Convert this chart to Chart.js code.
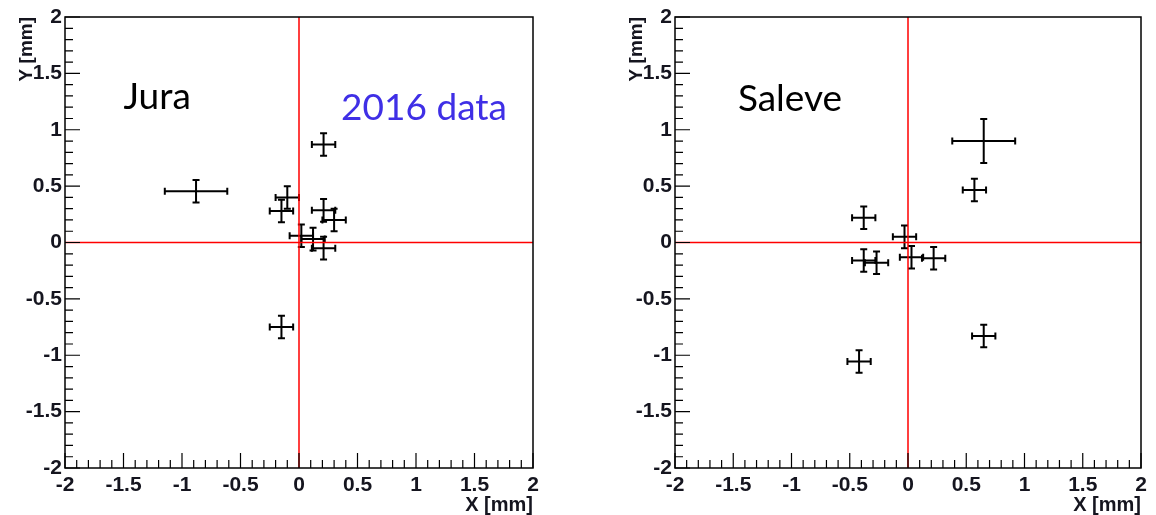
<!DOCTYPE html>
<html>
<head>
<meta charset="utf-8">
<script src="https://cdn.jsdelivr.net/npm/chart.js@4"></script>
<style>
  body { margin: 0; background: #fff; width: 1156px; height: 515px; overflow: hidden; position: relative; }
  .panel { position: absolute; top: 0; }
</style>
</head>
<body>
<div class="panel" style="left:0px"><canvas id="jura" width="560" height="515"></canvas></div>
<div class="panel" style="left:610px"><canvas id="saleve" width="546" height="515"></canvas></div>
<script>
// Jura points (mm)
var juraX    = [-0.88, 0.21, -0.10, -0.15, 0.21, 0.30, 0.02, 0.12, 0.21, -0.15];
var juraY    = [0.455, 0.87, 0.40, 0.28, 0.285, 0.20, 0.06, 0.03, -0.05, -0.75];
var juraXErr = [0.267, 0.10, 0.10, 0.10, 0.10, 0.10, 0.10, 0.10, 0.10, 0.10];
var juraYErr = [0.10, 0.10, 0.10, 0.10, 0.10, 0.10, 0.10, 0.10, 0.10, 0.10];

// Saleve points (mm)
var saleveX    = [0.65, 0.57, -0.38, -0.03, 0.03, 0.22, -0.38, -0.27, -0.42, 0.65];
var saleveY    = [0.90, 0.465, 0.22, 0.05, -0.13, -0.14, -0.16, -0.18, -1.055, -0.83];
var saleveXErr = [0.27, 0.10, 0.10, 0.10, 0.10, 0.10, 0.10, 0.10, 0.10, 0.10];
var saleveYErr = [0.195, 0.10, 0.10, 0.10, 0.10, 0.10, 0.10, 0.10, 0.10, 0.10];

// axis ticks
var axisMin = -2, axisMax = 2, majorStep = 0.5, minorStep = 0.1;

// text labels
var juraLabels = [
  { text: 'Jura', x: -1.50, y: 1.18, color: '#000' },
  { text: '2016 data', x: 0.36, y: 1.09, color: '#3f2fe6' }
];
var saleveLabels = [
  { text: 'Saleve', x: -1.46, y: 1.17, color: '#000' }
];

var tickFont = { family: 'Liberation Sans', size: 21, weight: 'bold' };
var textCol = '#15151f';

// error bars, red zero lines, inside ticks, frame, labels
var rootPlugin = {
  id: 'rootStyle',
  afterDatasetsDraw: function(chart) {
    var ctx = chart.ctx;
    var xs = chart.scales.x, ys = chart.scales.y;
    var a = chart.chartArea;
    var ds = chart.data.datasets[0];
    ctx.save();

    // error bars
    ctx.strokeStyle = '#000';
    ctx.lineWidth = 2;
    var cap = 3.5;
    ds.data.forEach(function(p, i) {
      var px = xs.getPixelForValue(p.x), py = ys.getPixelForValue(p.y);
      var x1 = xs.getPixelForValue(p.x - ds.xErr[i]), x2 = xs.getPixelForValue(p.x + ds.xErr[i]);
      var y1 = ys.getPixelForValue(p.y - ds.yErr[i]), y2 = ys.getPixelForValue(p.y + ds.yErr[i]);
      ctx.beginPath();
      ctx.moveTo(x1, py); ctx.lineTo(x2, py);
      ctx.moveTo(x1, py - cap); ctx.lineTo(x1, py + cap);
      ctx.moveTo(x2, py - cap); ctx.lineTo(x2, py + cap);
      ctx.moveTo(px, y1); ctx.lineTo(px, y2);
      ctx.moveTo(px - cap, y1); ctx.lineTo(px + cap, y1);
      ctx.moveTo(px - cap, y2); ctx.lineTo(px + cap, y2);
      ctx.stroke();
    });

    // red lines at zero
    ctx.strokeStyle = '#ff0000';
    ctx.lineWidth = 1.5;
    var x0 = xs.getPixelForValue(0), y0 = ys.getPixelForValue(0);
    ctx.beginPath();
    ctx.moveTo(x0, a.top); ctx.lineTo(x0, a.bottom);
    ctx.moveTo(a.left, y0); ctx.lineTo(a.right, y0);
    ctx.stroke();

    // inside ticks on left and bottom
    ctx.strokeStyle = '#000';
    ctx.lineWidth = 1.2;
    ctx.beginPath();
    var n = Math.round((axisMax - axisMin) / minorStep);
    for (var k = 0; k <= n; k++) {
      var v = axisMin + k * minorStep;
      var len = (k % 5 === 0) ? 15 : 8;
      var tx = xs.getPixelForValue(v), ty = ys.getPixelForValue(v);
      ctx.moveTo(tx, a.bottom); ctx.lineTo(tx, a.bottom - len);
      ctx.moveTo(a.left, ty); ctx.lineTo(a.left + len, ty);
    }
    ctx.stroke();

    // frame
    ctx.lineWidth = 1.5;
    ctx.strokeRect(a.left, a.top, a.right - a.left, a.bottom - a.top);

    // text labels
    ctx.font = '37px Lato';
    ctx.textBaseline = 'alphabetic';
    ctx.textAlign = 'left';
    (chart.options.plugins.rootStyle.labels || []).forEach(function(l) {
      ctx.fillStyle = l.color;
      ctx.fillText(l.text, xs.getPixelForValue(l.x), ys.getPixelForValue(l.y));
    });
    ctx.restore();
  }
};

function makeChart(id, xv, yv, xe, ye, labels, rightPad) {
  var pts = xv.map(function(v, i) { return { x: v, y: yv[i] }; });
  return new Chart(document.getElementById(id), {
    type: 'scatter',
    data: {
      datasets: [{
        data: pts,
        xErr: xe,
        yErr: ye,
        pointRadius: 0,
        pointHoverRadius: 0,
        showLine: false
      }]
    },
    options: {
      responsive: false,
      animation: false,
      devicePixelRatio: 1,
      layout: { padding: { top: 17, right: rightPad, bottom: 0, left: 0 } },
      plugins: {
        legend: { display: false },
        tooltip: { enabled: false },
        rootStyle: { labels: labels }
      },
      scales: {
        x: {
          type: 'linear',
          min: axisMin, max: axisMax,
          afterFit: function(s) { s.height = 47; },
          grid: { display: false, drawTicks: false },
          border: { display: false },
          ticks: {
            stepSize: majorStep, autoSkip: false, maxRotation: 0,
            padding: 5, color: textCol, font: tickFont,
            callback: function(v) { return String(v); }
          },
          title: {
            display: true, text: 'X [mm]', align: 'end', color: textCol,
            font: { family: 'Liberation Sans', size: 20, weight: 'bold' },
            padding: { top: 0, bottom: -2 }
          }
        },
        y: {
          type: 'linear',
          min: axisMin, max: axisMax,
          afterFit: function(s) { s.width = 65; },
          grid: { display: false, drawTicks: false },
          border: { display: false },
          ticks: {
            stepSize: majorStep, autoSkip: false,
            padding: 3, color: textCol, font: tickFont,
            callback: function(v) { return String(v); }
          },
          title: {
            display: true, text: 'Y [mm]', align: 'end', color: textCol,
            font: { family: 'Liberation Sans', size: 19, weight: 'bold' },
            padding: { top: 15, bottom: 0 }
          }
        }
      }
    },
    plugins: [rootPlugin]
  });
}

makeChart('jura', juraX, juraY, juraXErr, juraYErr, juraLabels, 27);
makeChart('saleve', saleveX, saleveY, saleveXErr, saleveYErr, saleveLabels, 15);
</script>
</body>
</html>
